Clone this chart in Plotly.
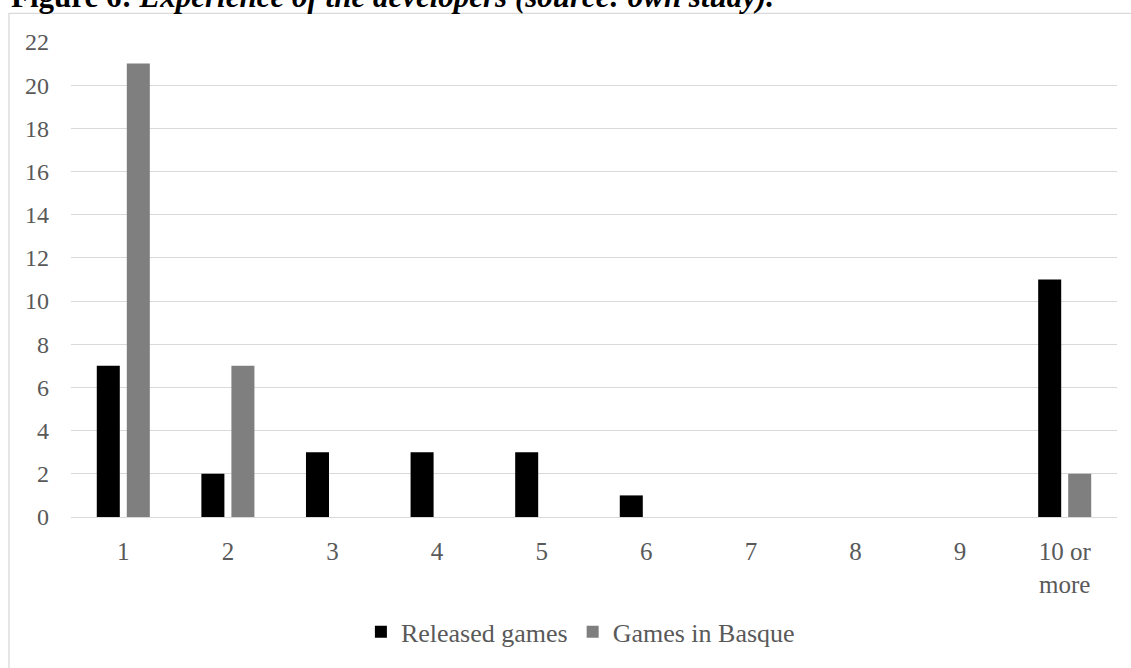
import plotly.graph_objects as go

categories = ["1", "2", "3", "4", "5", "6", "7", "8", "9", "10 or<br>more"]
released_games = [7, 2, 3, 3, 3, 1, 0, 0, 0, 11]
games_in_basque = [21, 7, 0, 0, 0, 0, 0, 0, 0, 2]
y_ticks = list(range(0, 23, 2))

FONT = "Liberation Serif, Times New Roman, serif"
TICK_COLOR = "#595959"
GRID = "#d9d9d9"

fig = go.Figure()
fig.add_trace(go.Bar(x=categories, y=released_games, name="Released games",
                     marker=dict(color="#000000", line=dict(width=0))))
fig.add_trace(go.Bar(x=categories, y=games_in_basque, name="Games in Basque",
                     marker=dict(color="#7f7f7f", line=dict(width=0))))

fig.update_layout(
    width=1131, height=668,
    margin=dict(l=71, r=14, t=42, b=145),
    paper_bgcolor="white", plot_bgcolor="white",
    barmode="group", bargap=0.426, bargroupgap=0.233,
    font=dict(family=FONT, size=24, color=TICK_COLOR),
    showlegend=True,
    legend=dict(orientation="h", x=0.487, xanchor="center", y=-0.242, yanchor="middle",
                font=dict(family=FONT, size=26, color=TICK_COLOR),
                itemwidth=30, traceorder="normal"),
    xaxis=dict(showgrid=False, showline=False, ticks="", zeroline=False,
               ticklabelstandoff=17,
               tickfont=dict(family=FONT, size=25, color=TICK_COLOR)),
    yaxis=dict(range=[0, 22], tickvals=y_ticks, showgrid=True, gridcolor=GRID, gridwidth=1.3,
               zeroline=True, zerolinecolor=GRID, zerolinewidth=1.3,
               showline=False, ticks="", ticklabelstandoff=21,
               tickfont=dict(family=FONT, size=24, color=TICK_COLOR)),
)

# chart border (light grey frame, partially outside the visible page)
fig.add_shape(type="rect", xref="paper", yref="paper",
              x0=-0.0593, x1=1.03, y0=-0.35, y1=1.0603,
              line=dict(color=GRID, width=1.3), fillcolor="rgba(0,0,0,0)", layer="below")

# cropped caption above the chart
fig.add_annotation(xref="paper", yref="paper", x=-0.0593, y=1.055,
                   xanchor="left", yanchor="bottom", showarrow=False,
                   text="<b>Figure 6: </b><b><i>Experience of the developers (source: own study).</i></b>",
                   font=dict(family=FONT, size=31, color="#000000"))

fig.write_html("out.html")
